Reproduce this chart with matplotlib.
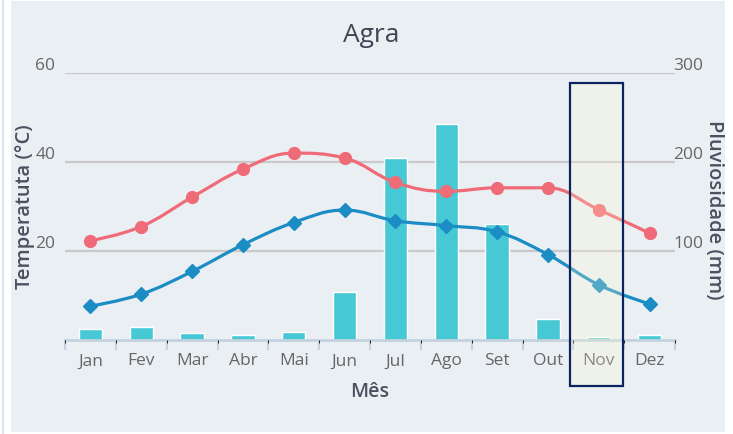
import numpy as np
import matplotlib
matplotlib.use('Agg')
import matplotlib.pyplot as plt
from matplotlib.path import Path
from matplotlib.patches import PathPatch, Rectangle

months = ['Jan', 'Fev', 'Mar', 'Abr', 'Mai', 'Jun',
          'Jul', 'Ago', 'Set', 'Out', 'Nov', 'Dez']
t_max = [22.3, 25.5, 32.1, 38.4, 42.0, 40.9, 35.4, 33.4, 34.2, 34.2, 29.3, 24.0]
t_min = [7.6, 10.3, 15.4, 21.4, 26.4, 29.2, 26.8, 25.7, 24.3, 19.2, 12.4, 8.1]
rain = [12, 15, 7.5, 5.5, 9, 54, 204, 243, 130, 24, 3.5, 5.5]

FN = 'Open Sans'
plt.rc('font', family=[FN, 'DejaVu Sans'])

BG = '#EAEFF4'
RED = '#EF6B77'
BLUE = '#1C8DC4'
BAR = '#46C9D4'
AXC = '#C4D1DF'
GRID = '#C9C9C9'
TICK = '#666666'
LAB = '#4A5260'
W, H = 733, 435


def spline_path(xs, ys, smoothing=1.5):
    # highcharts-like spline through the points (cubic bezier segments)
    n = len(xs)
    denom = smoothing + 1
    lc = [(xs[i], ys[i]) for i in range(n)]
    rc = [(xs[i], ys[i]) for i in range(n)]
    for i in range(1, n - 1):
        px, py = xs[i], ys[i]
        lx, ly = xs[i - 1], ys[i - 1]
        nx, ny = xs[i + 1], ys[i + 1]
        lcx = (smoothing * px + lx) / denom
        lcy = (smoothing * py + ly) / denom
        rcx = (smoothing * px + nx) / denom
        rcy = (smoothing * py + ny) / denom
        corr = (rcy - lcy) * (rcx - px) / (rcx - lcx) + py - rcy
        lcy += corr
        rcy += corr
        if lcy > ly and lcy > py:
            lcy = max(ly, py); rcy = 2 * py - lcy
        elif lcy < ly and lcy < py:
            lcy = min(ly, py); rcy = 2 * py - lcy
        if rcy > ny and rcy > py:
            rcy = max(ny, py); lcy = 2 * py - rcy
        elif rcy < ny and rcy < py:
            rcy = min(ny, py); lcy = 2 * py - rcy
        lc[i] = (lcx, lcy)
        rc[i] = (rcx, rcy)
    verts = [(xs[0], ys[0])]
    codes = [Path.MOVETO]
    for i in range(1, n):
        verts += [rc[i - 1], lc[i], (xs[i], ys[i])]
        codes += [Path.CURVE4] * 3
    return Path(verts, codes)


fig = plt.figure(figsize=(W / 100, H / 100), dpi=100)
fig.patch.set_facecolor('white')
# panel background
fig.patches.append(Rectangle((11 / W, 2 / H), (725 - 11) / W, (433 - 2) / H,
                             transform=fig.transFigure, facecolor=BG,
                             edgecolor='none', zorder=-10))
fig.add_artist(plt.Line2D([3 / W, 3 / W], [0, 1], color='#DCE5EE', lw=1.5))

pos = [65 / W, 1 - 341 / H, 610 / W, (341 - 74) / H]
x = np.arange(len(months))

# rain axis (right)
axr = fig.add_axes(pos)
axr.set_facecolor('none')
axr.bar(x, rain, width=0.46, color=BAR, edgecolor='white', lw=1, zorder=3)
axr.set_ylim(0, 300)
axr.set_xlim(-0.5, 11.5)
axr.set_yticks([100, 200, 300])
for yv in [100, 200, 300]:
    axr.axhline(yv, color=GRID, lw=1.6, zorder=1)
axr.yaxis.tick_right()
axr.tick_params(axis='y', length=0, pad=-1, labelsize=12.5, labelcolor=TICK)
for lbl in axr.get_yticklabels():
    lbl.set_va('bottom')
for s in ['top', 'left', 'right']:
    axr.spines[s].set_visible(False)
axr.spines['bottom'].set_color(AXC)
axr.spines['bottom'].set_linewidth(2)
axr.spines['bottom'].set_zorder(4)
axr.set_xticks(x)
axr.set_xticklabels(months)
axr.set_xticks(np.arange(-0.5, 12, 1), minor=True)
axr.tick_params(axis='x', which='major', length=0, pad=9,
                labelsize=12.5, labelcolor=TICK)
axr.tick_params(axis='x', which='minor', length=7, width=1.5, color=AXC)

# temperature axis (left)
axt = fig.add_axes(pos, sharex=axr)
axt.set_facecolor('none')
axt.set_ylim(0, 60)
axt.set_yticks([20, 40, 60])
axt.tick_params(axis='y', length=0, pad=7, labelsize=12.5, labelcolor=TICK)
for lbl in axt.get_yticklabels():
    lbl.set_va('bottom')
axt.tick_params(axis='x', bottom=False, labelbottom=False)
for s in axt.spines.values():
    s.set_visible(False)

for vals, col, mk in [(t_max, RED, 'o'), (t_min, BLUE, 'D')]:
    axt.add_patch(PathPatch(spline_path(x, vals), facecolor='none',
                            edgecolor=col, lw=2.3, zorder=3))
    axt.plot(x, vals, linestyle='none', marker=mk, color=col,
             markersize=8.5 if mk == 'o' else 7, zorder=4)

# highlighted month box
fig.patches.append(Rectangle((570 / W, 1 - 387 / H), 53 / W, (387 - 84) / H,
                             transform=fig.transFigure,
                             facecolor=(1.0, 0.98, 0.82, 0.25),
                             edgecolor='#0B2461', lw=1.6, zorder=10))

fig.text(371 / W, 1 - 36 / H, 'Agra', ha='center', va='center',
         fontsize=19, color='#3F4653')
fig.text(370 / W, 1 - 392 / H, 'Mês', ha='center', va='center',
         fontsize=14, color=LAB, weight='semibold')
fig.text(25 / W, 1 - 207 / H, 'Temperatuta (°C)', ha='center', va='center',
         rotation=90, fontsize=14.5, color=LAB, weight='semibold')
fig.text(714 / W, 1 - 210 / H, 'Pluviosidade (mm)', ha='center', va='center',
         rotation=-90, fontsize=14.5, color=LAB, weight='semibold')

plt.savefig('out.png', dpi=100)
plt.close(fig)
